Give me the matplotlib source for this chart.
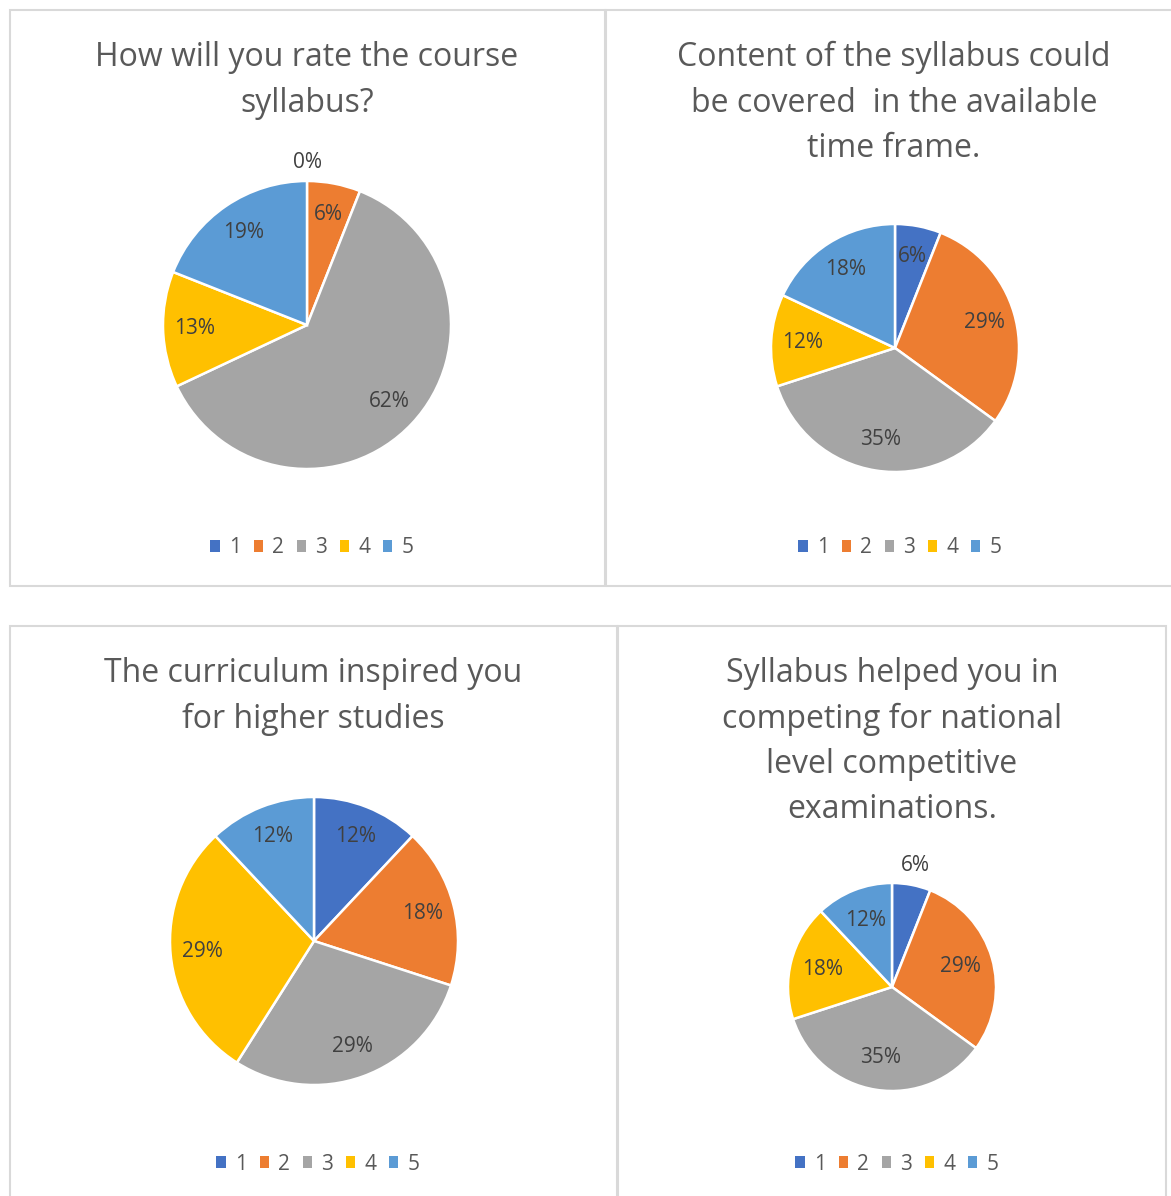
import matplotlib.pyplot as plt
import numpy as np
from matplotlib.patches import Rectangle, Patch

# survey answers, share of responses (%) for ratings 1..5
ratings = ['1', '2', '3', '4', '5']
q1_pct = [0, 6, 62, 13, 19]
q2_pct = [6, 29, 35, 12, 18]
q3_pct = [12, 18, 29, 29, 12]
q4_pct = [6, 29, 35, 18, 12]

titles = [
    ['How will you rate the course', 'syllabus?'],
    ['Content of the syllabus could', 'be covered  in the available', 'time frame.'],
    ['The curriculum inspired you', 'for higher studies'],
    ['Syllabus helped you in', 'competing for national', 'level competitive', 'examinations.'],
]

colors = ['#4472C4', '#ED7D31', '#A5A5A5', '#FFC000', '#5B9BD5']

W, H, DPI = 1171, 1196, 100
fig = plt.figure(figsize=(W / DPI, H / DPI), dpi=DPI)
FONT = ['Open Sans', 'DejaVu Sans']


def fx(px):
    return px / W


def fy(py):
    return 1 - py / H


# chart frames: x0, y0, x1, y1 in pixels from top-left
frames = [(10, 10, 605, 586), (606, 10, 1180, 586),
          (10, 626, 617, 1205), (618, 626, 1166, 1205)]
for x0, y0, x1, y1 in frames:
    fig.add_artist(Rectangle((fx(x0), fy(y1)), fx(x1 - x0), (y1 - y0) / H,
                             transform=fig.transFigure, fill=False,
                             edgecolor='#d9d9d9', linewidth=1.5))

# layout per chart: pie centre/radius, title centre x and first baseline,
# legend centre, label radius (fraction), labels put outside the pie
layout = [
    dict(c=(307, 325), r=144, tx=307, ty=66, lx=312, ly=548, ld=0.78, out={0: 1.13}),
    dict(c=(895, 348), r=124, tx=894, ty=66, lx=900, ly=548, ld=0.75, out={}),
    dict(c=(314, 941), r=144, tx=313, ty=682, lx=318, ly=1164, ld=0.78, out={}),
    dict(c=(892, 987), r=104, tx=892, ty=682, lx=897, ly=1164, ld=0.69, out={0: 1.19}),
]
LINE_PITCH = 45.5

for vals, title, L in zip([q1_pct, q2_pct, q3_pct, q4_pct], titles, layout):
    cx, cy = L['c']
    r = L['r']
    ax = fig.add_axes([fx(cx - r), fy(cy + r), 2 * r / W, 2 * r / H])
    wedges, _ = ax.pie(vals, colors=colors, startangle=90, counterclock=False,
                       radius=1, wedgeprops=dict(edgecolor='white', linewidth=1.8))
    ax.set_xlim(-1, 1)
    ax.set_ylim(-1, 1)
    ax.set_aspect('equal')
    ax.axis('off')

    for i, (w, v) in enumerate(zip(wedges, vals)):
        mid = np.deg2rad((w.theta1 + w.theta2) / 2)
        d = L['out'].get(i, L['ld'])
        ax.text(d * np.cos(mid), d * np.sin(mid), f'{v}%', ha='center', va='center',
                fontsize=15, color='#404040', family=FONT, clip_on=False)

    for k, line in enumerate(title):
        fig.text(fx(L['tx']), fy(L['ty'] + k * LINE_PITCH), line, ha='center',
                 va='baseline', fontsize=23, color='#595959', family=FONT)

    handles = [Patch(facecolor=c, edgecolor='none') for c in colors]
    leg = fig.legend(handles, ratings, loc='center', ncol=5, frameon=False,
                     bbox_to_anchor=(fx(L['lx']), fy(L['ly'])),
                     bbox_transform=fig.transFigure,
                     handlelength=0.45, handleheight=0.45, handletextpad=0.45,
                     columnspacing=0.6, prop=dict(family=FONT, size=15))
    for t in leg.get_texts():
        t.set_color('#595959')

fig.savefig('out.png', dpi=DPI, facecolor='white')
